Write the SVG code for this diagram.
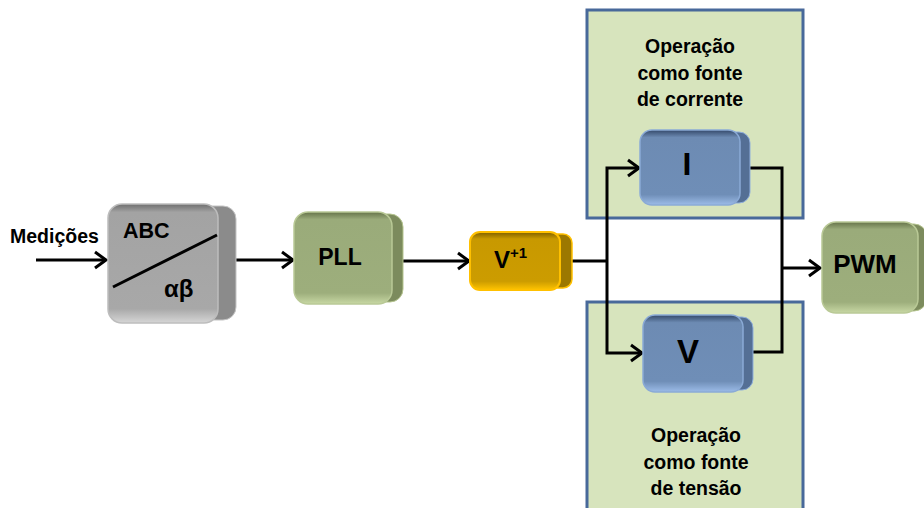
<svg xmlns="http://www.w3.org/2000/svg" width="924" height="508" viewBox="0 0 924 508">
  <defs>
    <!-- bevelled front faces: dark top lip, flat body, light bottom lip -->
    <linearGradient id="gGray" x1="0" y1="0" x2="0" y2="1">
      <stop offset="0" stop-color="#6e6e6e"/>
      <stop offset="0.07" stop-color="#a3a3a3"/>
      <stop offset="0.88" stop-color="#a8a8a8"/>
      <stop offset="1" stop-color="#d6d6d6"/>
    </linearGradient>
    <linearGradient id="gGreen" x1="0" y1="0" x2="0" y2="1">
      <stop offset="0" stop-color="#66744a"/>
      <stop offset="0.08" stop-color="#9aab7a"/>
      <stop offset="0.88" stop-color="#9dae7c"/>
      <stop offset="1" stop-color="#c8d8a4"/>
    </linearGradient>
    <linearGradient id="gGold" x1="0" y1="0" x2="0" y2="1">
      <stop offset="0" stop-color="#7d5f00"/>
      <stop offset="0.12" stop-color="#c89900"/>
      <stop offset="0.85" stop-color="#cc9c00"/>
      <stop offset="1" stop-color="#ffc400"/>
    </linearGradient>
    <linearGradient id="gBlue" x1="0" y1="0" x2="0" y2="1">
      <stop offset="0" stop-color="#34496a"/>
      <stop offset="0.1" stop-color="#6d8bb3"/>
      <stop offset="0.86" stop-color="#6f8eb7"/>
      <stop offset="1" stop-color="#9cbce8"/>
    </linearGradient>
    <marker id="arr" markerUnits="userSpaceOnUse" markerWidth="16" markerHeight="20" viewBox="0 0 16 20" refX="13" refY="10" orient="auto">
      <path d="M2,2 L13,10 L2,18" fill="none" stroke="#000" stroke-width="3" stroke-linejoin="miter"/>
    </marker>
  </defs>
  <style>
    .lbl { font-family: "Liberation Sans", Arial, sans-serif; font-weight: bold; fill: #000; }
    .wire { fill: none; stroke: #000; stroke-width: 3; }
    .panel { fill: #d7e4bd; stroke: #48699a; stroke-width: 3; }
    .sideGray { fill: #8b8b8b; stroke: #c4c4c4; stroke-width: 1; }
    .sideGreen { fill: #7c8b5d; stroke: #b5c48f; stroke-width: 1; }
    .sideGold { fill: #9c7800; stroke: #ffc000; stroke-width: 1.5; }
    .sideBlue { fill: #546f95; stroke: #8fafdc; stroke-width: 1; }
    .faceGray { fill: url(#gGray); stroke: #bdbdbd; stroke-width: 1.5; }
    .faceGreen { fill: url(#gGreen); stroke: #b9c996; stroke-width: 1.5; }
    .faceGold { fill: url(#gGold); stroke: #ffc000; stroke-width: 2; }
    .faceBlue { fill: url(#gBlue); stroke: #8aaad6; stroke-width: 1.5; }
  </style>

  <!-- operating-mode panels -->
  <g id="panel-current">
    <rect class="panel" x="587" y="10" width="216" height="208"/>
    <text class="lbl" font-size="19.5" text-anchor="middle" x="690" y="53">Operação</text>
    <text class="lbl" font-size="19.5" text-anchor="middle" x="690" y="80">como fonte</text>
    <text class="lbl" font-size="19.5" text-anchor="middle" x="690" y="106">de corrente</text>
  </g>
  <g id="panel-voltage">
    <rect class="panel" x="587" y="302" width="216" height="215"/>
    <text class="lbl" font-size="19.5" text-anchor="middle" x="696" y="442">Operação</text>
    <text class="lbl" font-size="19.5" text-anchor="middle" x="696" y="469">como fonte</text>
    <text class="lbl" font-size="19.5" text-anchor="middle" x="696" y="495">de tensão</text>
  </g>

  <!-- connectors -->
  <g id="connectors">
    <line class="wire" x1="36" y1="260" x2="106" y2="260" marker-end="url(#arr)"/>
    <line class="wire" x1="236" y1="260" x2="293" y2="260" marker-end="url(#arr)"/>
    <line class="wire" x1="403" y1="261" x2="469" y2="261" marker-end="url(#arr)"/>
    <polyline class="wire" points="572,261 607,261"/>
    <polyline class="wire" points="607,261 607,168 639,168" marker-end="url(#arr)"/>
    <polyline class="wire" points="607,261 607,353 642,353" marker-end="url(#arr)"/>
    <polyline class="wire" points="750,168 782,168 782,352 753,352"/>
    <line class="wire" x1="782" y1="268" x2="820" y2="268" marker-end="url(#arr)"/>
  </g>

  <!-- measurement input label -->
  <g id="medicoes">
    <text class="lbl" font-size="19.5" x="10" y="243">Medições</text>
  </g>

  <!-- ABC / alpha-beta transform -->
  <g id="abc">
    <rect class="sideGray" x="120" y="206" width="116" height="114" rx="13"/>
    <rect class="faceGray" x="108" y="204" width="110" height="119" rx="14"/>
    <line x1="113" y1="287" x2="217" y2="235" stroke="#000" stroke-width="3"/>
    <text class="lbl" font-size="21.5" x="123" y="238">ABC</text>
    <text class="lbl" font-size="24" x="164" y="297">αβ</text>
  </g>

  <!-- PLL -->
  <g id="pll">
    <rect class="sideGreen" x="304" y="214" width="99" height="88" rx="13"/>
    <rect class="faceGreen" x="294" y="212" width="98" height="92" rx="14"/>
    <text class="lbl" font-size="23" text-anchor="middle" x="340" y="265">PLL</text>
  </g>

  <!-- positive-sequence voltage -->
  <g id="vpos">
    <rect class="sideGold" x="480" y="234" width="92" height="54" rx="9"/>
    <rect class="faceGold" x="470" y="232" width="90" height="58" rx="10"/>
    <text class="lbl" font-size="24" x="494" y="268">V<tspan font-size="15" dy="-10">+1</tspan></text>
  </g>

  <!-- current-source controller -->
  <g id="ctrl-i">
    <rect class="sideBlue" x="650" y="132" width="100" height="71" rx="11"/>
    <rect class="faceBlue" x="640" y="130" width="100" height="75" rx="12"/>
    <text class="lbl" font-size="32" text-anchor="middle" x="687" y="175">I</text>
  </g>

  <!-- voltage-source controller -->
  <g id="ctrl-v">
    <rect class="sideBlue" x="653" y="317" width="100" height="73" rx="11"/>
    <rect class="faceBlue" x="643" y="315" width="100" height="77" rx="12"/>
    <text class="lbl" font-size="33" text-anchor="middle" x="688" y="363">V</text>
  </g>

  <!-- PWM -->
  <g id="pwm">
    <rect class="sideGreen" x="832" y="224" width="95" height="87" rx="13"/>
    <rect class="faceGreen" x="822" y="222" width="96" height="91" rx="14"/>
    <text class="lbl" font-size="26" text-anchor="middle" x="865" y="273">PWM</text>
  </g>
</svg>
